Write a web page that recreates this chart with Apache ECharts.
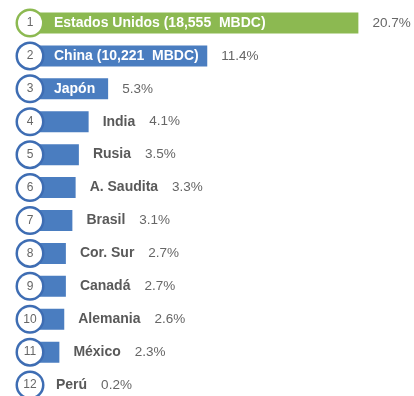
<!DOCTYPE html>
<html>
<head>
<meta charset="utf-8">
<script src="https://cdn.jsdelivr.net/npm/echarts@6/dist/echarts.min.js"></script>
<style>
  html, body { margin: 0; padding: 0; background: #ffffff; }
  #chart { width: 414px; height: 396px; }
</style>
</head>
<body>
<div id="chart"></div>
<script>
// Ranking: share of world GDP by country
const ranks = ['1', '2', '3', '4', '5', '6', '7', '8', '9', '10', '11', '12'];
const countries = [
  'Estados Unidos (18,555  MBDC)', 'China (10,221  MBDC)', 'Japón', 'India', 'Rusia',
  'A. Saudita', 'Brasil', 'Cor. Sur', 'Canadá', 'Alemania', 'México', 'Perú'
];
const shares = [20.7, 11.4, 5.3, 4.1, 3.5, 3.3, 3.1, 2.7, 2.7, 2.6, 2.3, 0.2];

const GREEN = '#8cb951';
const BLUE = '#4a7dc0';
const RING_BLUE = '#3e6db3';
const FONT = '"Liberation Sans", Arial, Helvetica, sans-serif';
const NAME_SIZE = 14;
const NAME_OFFSET = 32;      // gap from the bar origin to the start of a name inside the bar
const PCT_GAP = 14;
const MIN_OUTSIDE = 34;      // outside labels never start under the rank badge

const chart = echarts.init(document.getElementById('chart'), null, { renderer: 'canvas' });

// width of a name in the bold label font
const measureCtx = document.createElement('canvas').getContext('2d');
function textWidth(s) {
  measureCtx.font = 'bold ' + NAME_SIZE + 'px ' + FONT;
  return measureCtx.measureText(s).width;
}

function pct(v) { return v.toFixed(1) + '%'; }

function badge(color) {
  return {
    width: 24, height: 24, lineHeight: 24, align: 'center',
    backgroundColor: '#ffffff', borderColor: color, borderWidth: 2.5, borderRadius: 14,
    color: '#666666', fontSize: 12, fontFamily: FONT
  };
}

function buildOption(nameInside, outsideGap) {
  return {
    animation: false,
    grid: { left: 22, right: 2, top: 6.5, height: 395, outerBoundsMode: 'none', containLabel: false },
    xAxis: { type: 'value', min: 0, max: 24, show: false },
    yAxis: {
      type: 'category',
      inverse: true,
      data: ranks,
      z: 10,
      axisLine: { show: false },
      axisTick: { show: false },
      splitLine: { show: false },
      axisLabel: {
        margin: -20,
        formatter: (v, i) => (i === 0 ? '{g|' : '{b|') + v + '}',
        rich: { g: badge(GREEN), b: badge(RING_BLUE) }
      }
    },
    series: [
      {
        type: 'bar',
        barWidth: 21,
        data: shares.map((v, i) => ({
          value: v,
          itemStyle: { color: i === 0 ? GREEN : BLUE },
          label: { distance: outsideGap[i] }
        })),
        label: {
          show: true,
          position: 'right',
          formatter: p => nameInside[p.dataIndex]
            ? '{p|' + pct(p.value) + '}'
            : '{n|' + countries[p.dataIndex] + '}{p|' + pct(p.value) + '}',
          rich: {
            p: { color: '#666666', fontSize: 13.5, fontFamily: FONT },
            n: { color: '#595959', fontSize: NAME_SIZE, fontWeight: 'bold', fontFamily: FONT, padding: [0, 14, 0, 0] }
          }
        }
      },
      {
        type: 'bar',
        barWidth: 21,
        barGap: '-100%',
        silent: true,
        data: shares,
        itemStyle: { color: 'rgba(0,0,0,0)' },
        label: {
          show: true,
          position: 'insideLeft',
          distance: 0,
          offset: [NAME_OFFSET, 0],
          formatter: p => nameInside[p.dataIndex] ? countries[p.dataIndex] : '',
          color: '#ffffff',
          fontSize: NAME_SIZE,
          fontWeight: 'bold',
          fontFamily: FONT
        }
      }
    ]
  };
}

// first pass: lay out the bars, then decide which names fit inside their bar
chart.setOption(buildOption(shares.map(() => false), shares.map(() => PCT_GAP)));
const originX = chart.convertToPixel({ gridIndex: 0 }, [0, 0])[0];
const ends = shares.map((v, i) => chart.convertToPixel({ gridIndex: 0 }, [v, i])[0]);
const fits = shares.map((v, i) => originX + NAME_OFFSET + textWidth(countries[i]) + 2 <= ends[i]);
const gaps = shares.map((v, i) => fits[i] ? PCT_GAP : Math.max(PCT_GAP, originX + MIN_OUTSIDE - ends[i]));
chart.setOption(buildOption(fits, gaps), true);
</script>
</body>
</html>
